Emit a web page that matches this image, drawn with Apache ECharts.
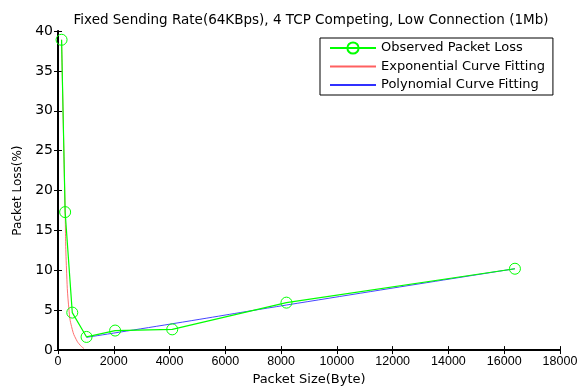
<!DOCTYPE html>
<html>
<head>
<meta charset="utf-8">
<script src="https://cdn.jsdelivr.net/npm/echarts@6/dist/echarts.min.js"></script>
<style>html,body{margin:0;padding:0;background:#fff;}#c{width:582px;height:391px;}</style>
</head>
<body>
<div id="c"></div>
<script>
const packetSizes = [128, 256, 512, 1024, 2048, 4096, 8192, 16384];
const observedLoss = [38.9, 17.3, 4.7, 1.65, 2.45, 2.6, 5.95, 10.2];
const expFitX = [128, 256, 300, 400, 512, 650, 800, 930];
const expFitY = [38.9, 17.3, 10.6, 4.8, 2.6, 1.35, 0.6, 0.2];
const polyFitX = [1024, 4096, 8192, 16384];
const polyFitY = [1.6, 3.3, 5.65, 10.2];
const xTicks = [0, 2000, 4000, 6000, 8000, 10000, 12000, 14000, 16000, 18000];
const yTicks = [0, 5, 10, 15, 20, 25, 30, 35, 40];

const pairs = (xs, ys) => xs.map((x, i) => [x, ys[i]]);
const arial = 'Liberation Sans, Arial, sans-serif';
const wide = 'DejaVu Sans, sans-serif';
const chart = echarts.init(document.getElementById('c'), null, {renderer: 'canvas'});
const baseX = {
  type: 'value', min: xTicks[0], max: xTicks[xTicks.length - 1], interval: xTicks[1] - xTicks[0],
  splitLine: {show: false},
  axisTick: {inside: true, length: 4, lineStyle: {color: '#000'}}
};
const baseY = {
  type: 'value', min: yTicks[0], max: yTicks[yTicks.length - 1], interval: yTicks[1] - yTicks[0],
  splitLine: {show: false},
  axisTick: {inside: true, length: 4, lineStyle: {color: '#000'}}
};
chart.setOption({
  animation: false,
  backgroundColor: '#fff',
  title: {
    text: 'Fixed Sending Rate(64KBps), 4 TCP Competing, Low Connection (1Mb)',
    left: 306, textAlign: 'center', top: 8,
    textStyle: {fontFamily: wide, fontSize: 13.5, fontWeight: 'normal', color: '#000'}
  },
  grid: {left: 58, right: 22, top: 31, bottom: 35},
  legend: {
    orient: 'vertical', left: 320, top: 38,
    padding: [3, 8, 3, 9], itemGap: 4.5, itemWidth: 46, itemHeight: 14,
    borderColor: '#000', borderWidth: 1, borderRadius: 0, backgroundColor: '#fff',
    textStyle: {fontFamily: wide, fontSize: 13, lineHeight: 14, color: '#000'},
    data: [
      {name: 'Observed Packet Loss'},
      {name: 'Exponential Curve Fitting', itemStyle: {opacity: 0}},
      {name: 'Polynomial Curve Fitting', itemStyle: {opacity: 0}}
    ]
  },
  xAxis: [
    Object.assign({}, baseX, {
      position: 'bottom', name: 'Packet Size(Byte)', nameLocation: 'middle', nameGap: 21,
      nameTextStyle: {fontFamily: wide, fontSize: 13, color: '#000'},
      axisLine: {lineStyle: {color: '#000', width: 2}},
      axisLabel: {fontFamily: arial, fontSize: 12.5, color: '#000', margin: 5, formatter: v => String(v)}
    }),
    Object.assign({}, baseX, {
      position: 'top', axisLine: {lineStyle: {color: '#000', width: 1}},
      axisLabel: {show: false}
    })
  ],
  yAxis: [
    Object.assign({}, baseY, {
      position: 'left', name: 'Packet Loss(%)', nameLocation: 'middle', nameGap: 33,
      nameTextStyle: {fontFamily: wide, fontSize: 12, color: '#000'},
      axisLine: {lineStyle: {color: '#000', width: 2}},
      axisLabel: {fontFamily: wide, fontSize: 14, color: '#000', margin: 5, formatter: v => String(v)}
    }),
    Object.assign({}, baseY, {
      position: 'right', axisLine: {lineStyle: {color: '#000', width: 1}},
      axisLabel: {show: false}
    })
  ],
  series: [
    {
      name: 'Observed Packet Loss', type: 'line', xAxisIndex: 0, yAxisIndex: 0,
      data: pairs(packetSizes, observedLoss), z: 3,
      symbol: 'circle', symbolSize: 11,
      itemStyle: {color: 'rgba(0,0,0,0)', borderColor: '#00ff00', borderWidth: 1},
      lineStyle: {color: '#00ff00', width: 1.2}
    },
    {
      name: 'Exponential Curve Fitting', type: 'line', smooth: true, xAxisIndex: 0, yAxisIndex: 0,
      data: pairs(expFitX, expFitY), symbol: 'none', z: 2,
      itemStyle: {color: '#ff7070'},
      lineStyle: {color: '#ff6060', width: 0.9}
    },
    {
      name: 'Polynomial Curve Fitting', type: 'line', smooth: true, xAxisIndex: 0, yAxisIndex: 0,
      data: pairs(polyFitX, polyFitY), symbol: 'none', z: 2,
      itemStyle: {color: '#6060ff'},
      lineStyle: {color: '#3030ff', width: 0.9}
    }
  ]
});
</script>
</body>
</html>
